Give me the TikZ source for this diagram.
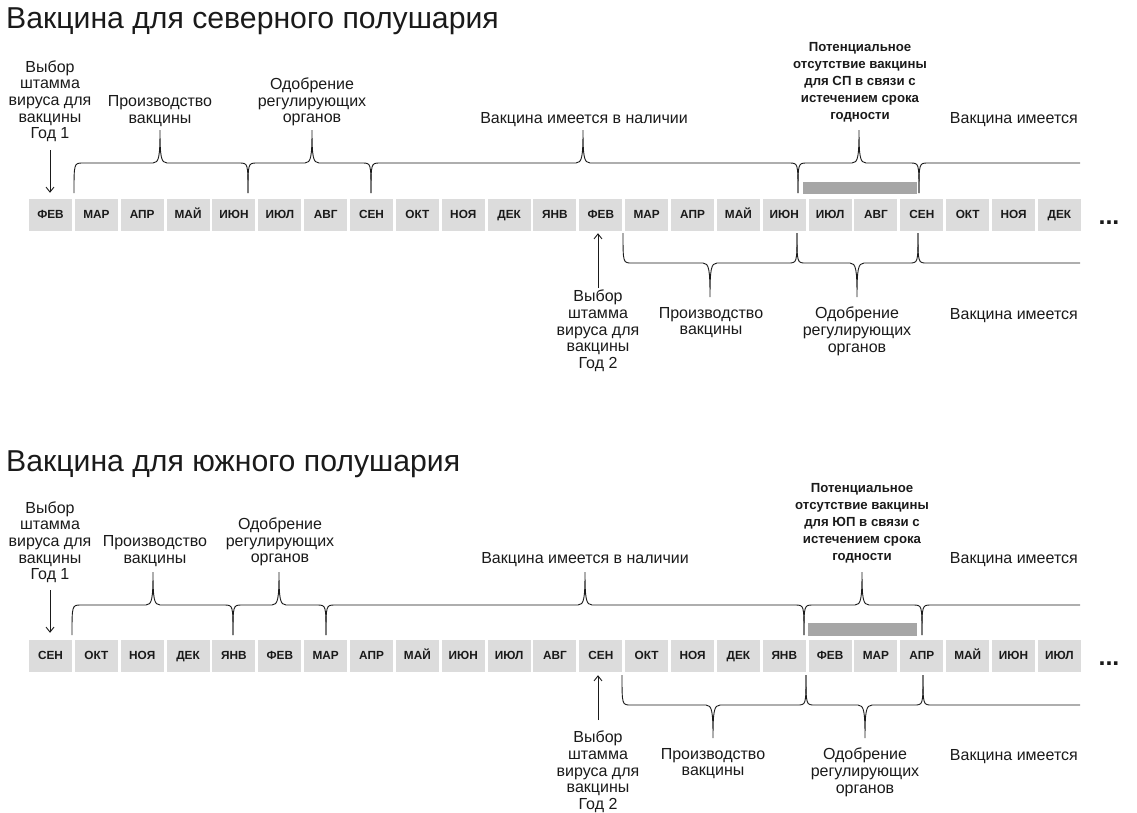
\documentclass[tikz,border=0pt]{standalone}
\usepackage{fontspec}
\setmainfont{Liberation Sans}
\usetikzlibrary{arrows.meta}
\definecolor{boxgray}{HTML}{DCDCDC}
\definecolor{bargray}{HTML}{A6A6A6}
\definecolor{inkc}{HTML}{1A1A1A}
% brace: xa, xc, xb, h, end-y, tip-y
\newcommand{\brc}[6]{\draw[brace line] (#1,#5) .. controls (#1,#4) and (#1,#4) .. ({#1+9},#4) -- ({#2-7},#4) .. controls ({#2-1},#4) and (#2,{#4+0.2*(#6-#4)}) .. (#2,#6) .. controls (#2,{#4+0.2*(#6-#4)}) and ({#2+1},#4) .. ({#2+7},#4) -- ({#3-9},#4) .. controls (#3,#4) and (#3,#4) .. (#3,#5);}
% open brace: xa, h, end-y, xend
\newcommand{\brco}[4]{\draw[brace line] (#1,#3) .. controls (#1,#2) and (#1,#2) .. ({#1+9},#2) -- (#4,#2);}
\begin{document}
\begin{tikzpicture}[x=1pt,y=-1pt,
  month/.style={fill=boxgray, minimum width=43pt, minimum height=32pt, inner sep=0pt, text height=8.4pt, text depth=0pt, text=inkc, font=\fontsize{11.8}{13}\selectfont\bfseries},
  lbl/.style={align=center, inner sep=0pt, text=inkc, font=\fontsize{16}{16.6}\selectfont},
  blbl/.style={align=center, inner sep=0pt, text=inkc, font=\fontsize{13.2}{17}\selectfont\bfseries},
  ttl/.style={anchor=base west, inner sep=0pt, text=inkc, font=\fontsize{30.2}{32}\selectfont},
  brace line/.style={line width=0.9pt, inkc},
  bar/.style={fill=bargray},
  arr/.style={-{Straight Barb[length=5pt,width=8pt]}, line width=0.9pt, inkc},
  dotsn/.style={anchor=base, inner sep=0pt, text=inkc, font=\fontsize{25}{26}\selectfont\bfseries}
]
\useasboundingbox (0,0) rectangle (1137,812);

% ===== Northern hemisphere =====
\node[ttl] (title1) at (6,28.5) {Вакцина для северного полушария};
\foreach \m [count=\i from 0] in {ФЕВ,МАР,АПР,МАЙ,ИЮН,ИЮЛ,АВГ,СЕН,ОКТ,НОЯ,ДЕК,ЯНВ,ФЕВ,МАР,АПР,МАЙ,ИЮН,ИЮЛ,АВГ,СЕН,ОКТ,НОЯ,ДЕК}
  {\node[month] (t\i) at ({50.5+45.86*\i},214.5) {\m};}
\node[dotsn] (dots1) at (1109,224) {...};

\fill[bar] (803,182) rectangle (917,194);

\brc{74}{160}{248}{163}{193}{130}
\brc{248}{312}{371}{163}{193}{130}
\brc{371}{583}{798}{163}{193}{130}
\brc{798}{859}{919}{163}{193}{130}
\brco{919}{163}{193}{1080}

\brc{623}{710}{797}{263}{233}{297}
\brc{797}{857}{918}{263}{233}{297}
\brco{918}{263}{233}{1080}

\node[lbl, anchor=south] (sel1) at (50,142) {Выбор\\штамма\\вируса для\\вакцины\\Год 1};
\node[lbl, anchor=south] (prod1) at (160,126.5) {Производство\\вакцины};
\node[lbl, anchor=south] (appr1) at (312,126.5) {Одобрение\\регулирующих\\органов};
\node[lbl, anchor=south] (avail1) at (584,126.5) {Вакцина имеется в наличии};
\node[blbl, anchor=south] (short1) at (860,122) {Потенциальное\\отсутствие вакцины\\для СП в связи с\\истечением срока\\годности};
\node[lbl, anchor=base east] (availr1) at (1078,123.5) {Вакцина имеется};

\node[lbl, anchor=north] (sel2) at (598,290) {Выбор\\штамма\\вируса для\\вакцины\\Год 2};
\node[lbl, anchor=north] (prod2) at (711,307) {Производство\\вакцины};
\node[lbl, anchor=north] (appr2) at (857,307) {Одобрение\\регулирующих\\органов};
\node[lbl, anchor=base east] (availr2) at (1078,319.5) {Вакцина имеется};

\draw[arr, shorten <=8pt, shorten >=5.5pt] (sel1.south) -- (sel1.south |- t0.north);
\draw[arr, shorten <=2pt, shorten >=2.5pt] (sel2.north) -- (sel2.north |- t12.south);

% ===== Southern hemisphere =====
\node[ttl] (title2) at (6,471) {Вакцина для южного полушария};
\foreach \m [count=\i from 0] in {СЕН,ОКТ,НОЯ,ДЕК,ЯНВ,ФЕВ,МАР,АПР,МАЙ,ИЮН,ИЮЛ,АВГ,СЕН,ОКТ,НОЯ,ДЕК,ЯНВ,ФЕВ,МАР,АПР,МАЙ,ИЮН,ИЮЛ}
  {\node[month] (s\i) at ({50.5+45.86*\i},655.5) {\m};}
\node[dotsn] (dots2) at (1109,665) {...};

\fill[bar] (808,623) rectangle (917,636);

\brc{72}{153}{233}{605}{635}{572}
\brc{233}{279}{326}{605}{635}{572}
\brc{326}{585}{804}{605}{635}{572}
\brc{804}{862}{922}{605}{635}{572}
\brco{922}{605}{635}{1080}

\brc{622}{713}{806}{705}{675}{738}
\brc{806}{865}{923}{705}{675}{738}
\brco{923}{705}{675}{1080}

\node[lbl, anchor=south] (sel3) at (50,583) {Выбор\\штамма\\вируса для\\вакцины\\Год 1};
\node[lbl, anchor=south] (prod3) at (155,566.5) {Производство\\вакцины};
\node[lbl, anchor=south] (appr3) at (280,566.5) {Одобрение\\регулирующих\\органов};
\node[lbl, anchor=south] (avail3) at (585,566.5) {Вакцина имеется в наличии};
\node[blbl, anchor=south] (short3) at (862,563) {Потенциальное\\отсутствие вакцины\\для ЮП в связи с\\истечением срока\\годности};
\node[lbl, anchor=base east] (availr3) at (1078,563.5) {Вакцина имеется};

\node[lbl, anchor=north] (sel4) at (598,731) {Выбор\\штамма\\вируса для\\вакцины\\Год 2};
\node[lbl, anchor=north] (prod4) at (713,748) {Производство\\вакцины};
\node[lbl, anchor=north] (appr4) at (865,748) {Одобрение\\регулирующих\\органов};
\node[lbl, anchor=base east] (availr4) at (1078,760.5) {Вакцина имеется};

\draw[arr, shorten <=7pt, shorten >=6.5pt] (sel3.south) -- (sel3.south |- s0.north);
\draw[arr, shorten <=11pt, shorten >=3.5pt] (sel4.north) -- (sel4.north |- s12.south);
\end{tikzpicture}
\end{document}
